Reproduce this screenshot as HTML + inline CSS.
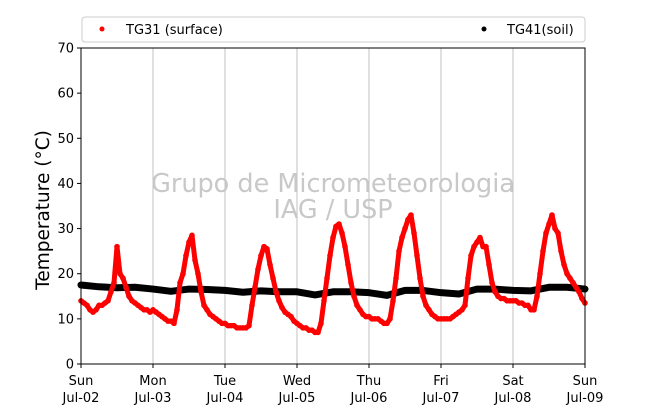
<!DOCTYPE html>
<html><head><meta charset="utf-8"><style>
body{margin:0;background:#fff;}
svg{display:block;font-family:"DejaVu Sans","Liberation Sans",sans-serif;}
</style></head><body>
<svg id="c" width="650" height="409">
<rect x="0" y="0" width="650" height="409" fill="#fff"/>
<g id="grid"></g>
<text x="333" y="192" font-size="25.5" fill="#c8c8c8" text-anchor="middle">Grupo de Micrometeorologia</text>
<text x="333" y="218" font-size="25.5" fill="#c8c8c8" text-anchor="middle">IAG / USP</text>
<g id="series"></g>
<rect x="81" y="48" width="504" height="316" fill="none" stroke="#000" stroke-width="1"/>
<g id="axes"></g>
<text transform="translate(49,210) rotate(-90)" font-size="18.5" text-anchor="middle">Temperature (°C)</text>
<g>
<rect x="82" y="17" width="503" height="25" rx="3" fill="#fff" stroke="#ccc"/>
<circle cx="102" cy="29" r="2.5" fill="#f00"/>
<text x="126" y="34" font-size="13">TG31 (surface)</text>
<circle cx="484" cy="29" r="2.5" fill="#000"/>
<text x="507" y="34" font-size="13">TG41(soil)</text>
</g>
</svg>
<script>
const dayLabels=["Sun","Mon","Tue","Wed","Thu","Fri","Sat","Sun"];
const dateLabels=["Jul-02","Jul-03","Jul-04","Jul-05","Jul-06","Jul-07","Jul-08","Jul-09"];
const yTicks=[0,10,20,30,40,50,60,70];
// hourly surface temps
const surface=[
14,13.5,13,12,11.5,12,13,13,13.5,14,16,18,26,20,19,17,15,14,13.5,13,12.5,12,12,11.5,
12,11.5,11,10.5,10,9.5,9.5,9,12,18,20,24,27,28.5,23,20,16,13,12,11,10.5,10,9.5,9,
9,8.5,8.5,8.5,8,8,8,8,8.5,13,17,21,24,26,25.5,22,19,16,14,12.5,11.5,11,10.5,9.5,
9,8.5,8,8,7.5,7.5,7,7,9,14,19,24,28,30.5,31,29,26,22,18,15,13,12,11,10.5,
10.5,10,10,10,9.5,9,9,10,14,19,25,28,30,32,33,29,24,19,15,13,12,11,10.5,10,
10,10,10,10,10.5,11,11.5,12,13,19,24,26,27,28,26,26,22,18,16,15,14.5,14.5,14,14,
14,14,13.5,13.5,13,13,12,12,15,20,25,29,31,33,30,29,25,22,20,19,18,17,16,14.5,
13.5];
// 6-hourly soil temps
const soil=[17.5,17.1,16.9,17.0,16.6,16.1,16.6,16.5,16.3,15.9,16.2,16.0,16.0,15.3,16.0,16.0,15.8,15.2,16.3,16.3,15.8,15.5,16.6,16.6,16.3,16.2,17.0,17.0,16.6];
const NS="http://www.w3.org/2000/svg";
const X0=81,X1=585,Y0=364,Y1=48,HOURS=168,YMAX=70;
const xs=h=>X0+(X1-X0)*h/HOURS;
const ys=v=>Y0-(Y0-Y1)*v/YMAX;
function mk(t,a,p){const e=document.createElementNS(NS,t);for(const k in a)e.setAttribute(k,a[k]);p.appendChild(e);return e;}
const grid=document.getElementById('grid'),axes=document.getElementById('axes'),ser=document.getElementById('series');
dayLabels.forEach((d,i)=>{
  const x=xs(i*24);
  if(i>0&&i<7){const g=mk('line',{x1:x,x2:x,y1:Y1,y2:Y0,stroke:'#c0c0c0','stroke-width':1},grid);
  
  }
  const tk=mk('line',{x1:x,x2:x,y1:Y0,y2:Y0+4,stroke:'#000'},axes);
  
  
  const t1=mk('text',{x:x,y:385,'font-size':13,'text-anchor':'middle'},axes);t1.textContent=d;
  
  
  const t2=mk('text',{x:x,y:402,'font-size':13,'text-anchor':'middle'},axes);t2.textContent=dateLabels[i];
  
  
});
yTicks.forEach(v=>{
  const y=ys(v);
  const tk=mk('line',{x1:X0-4,x2:X0,y1:y,y2:y,stroke:'#000'},axes);
  
  
  const t=mk('text',{x:X0-7,y:y+4.5,'font-size':13,'text-anchor':'end'},axes);t.textContent=v;
  
  
});
const sp=soil.map((v,i)=>xs(i*6)+','+ys(v)).join(' ');
const sl=mk('polyline',{points:sp,fill:'none',stroke:'#000','stroke-width':7,'stroke-linejoin':'round','stroke-linecap':'round'},ser);


const rp=surface.map((v,i)=>xs(i)+','+ys(v)).join(' ');
const rl=mk('polyline',{points:rp,fill:'none',stroke:'#f00','stroke-width':5,'stroke-linejoin':'round','stroke-linecap':'round'},ser);


surface.forEach((v,i)=>{
  const c=mk('circle',{cx:xs(i),cy:ys(v),r:2.8,fill:'#f00'},ser);
  
  
});
</script>
</body></html>
